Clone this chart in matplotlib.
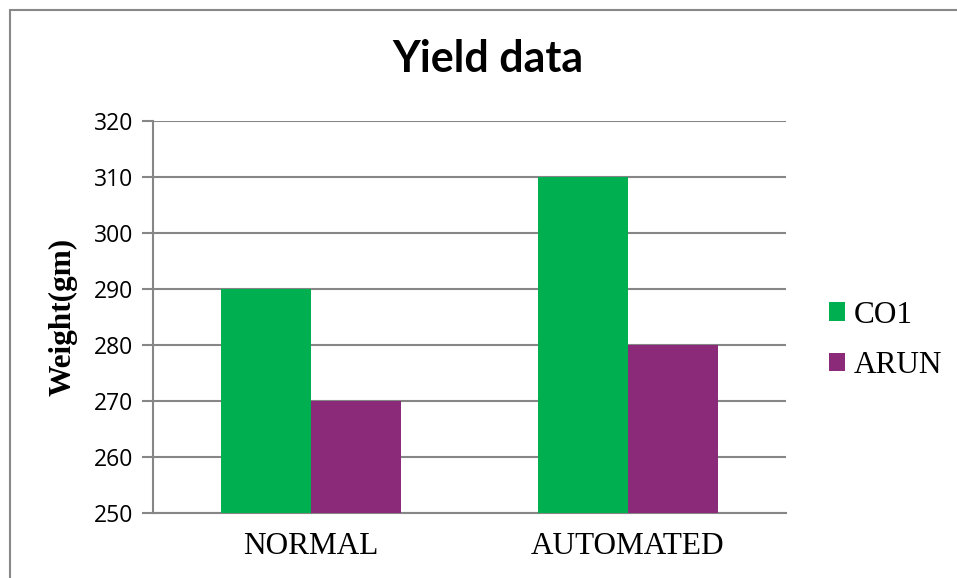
import numpy as np
import matplotlib.pyplot as plt
from matplotlib.patches import Rectangle

# 产量数据
categories = ['NORMAL', 'AUTOMATED']
co1 = [290, 310]
arun = [270, 280]
series_names = ['CO1', 'ARUN']
colors = ['#00B050', '#8B2A78']
yticks = [250, 260, 270, 280, 290, 300, 310, 320]

fig = plt.figure(figsize=(9.57, 5.78), dpi=100)
ax = fig.add_axes([153 / 957, 1 - 513 / 578, (786 - 153) / 957, (513 - 121) / 578])

x = np.arange(len(categories))
w = 0.284
ax.bar(x - w / 2, np.array(co1) - 250, w, bottom=250, color=colors[0], label=series_names[0], zorder=3)
ax.bar(x + w / 2, np.array(arun) - 250, w, bottom=250, color=colors[1], label=series_names[1], zorder=3)

ax.set_xlim(-0.5, 1.5)
ax.set_ylim(250, 320)
ax.set_yticks(yticks)
ax.set_yticklabels([str(v) for v in yticks], fontfamily='Open Sans', fontsize=16.5)
ax.set_xticks(x)
ax.set_xticklabels(categories, fontfamily='Liberation Serif', fontsize=22.5)
ax.tick_params(axis='x', length=0, pad=14)
ax.tick_params(axis='y', length=8, width=1.5, color='#868686', pad=6)

ax.grid(axis='y', color='#868686', linewidth=1.5, zorder=0)
for s in ['top', 'right']:
    ax.spines[s].set_visible(False)
for s in ['left', 'bottom']:
    ax.spines[s].set_color('#868686')
    ax.spines[s].set_linewidth(1.5)

ax.set_ylabel('Weight(gm)', fontfamily='Liberation Serif', fontweight='bold', fontsize=22.5)
ax.yaxis.set_label_coords((78 - 153) / 633, 0.5)
fig.text(488 / 957, 1 - 59 / 578, 'Yield data', ha='center', va='center',
         fontfamily='Lato', fontweight='bold', fontsize=31)

leg = ax.legend(loc='center left', bbox_to_anchor=((829 - 153) / 633, 0.441), frameon=False,
                borderpad=0, borderaxespad=0,
                prop={'family': 'Liberation Serif', 'size': 22.5},
                handlelength=0.52, handleheight=0.52, handletextpad=0.26, labelspacing=0.68)

# 外框
fig.patches.append(Rectangle((9.5 / 957, -0.1), 1.0, 1 - 9.5 / 578 + 0.1, transform=fig.transFigure,
                             fill=False, edgecolor='#888888', linewidth=1.5, clip_on=False))

fig.savefig('out.png', dpi=100)
